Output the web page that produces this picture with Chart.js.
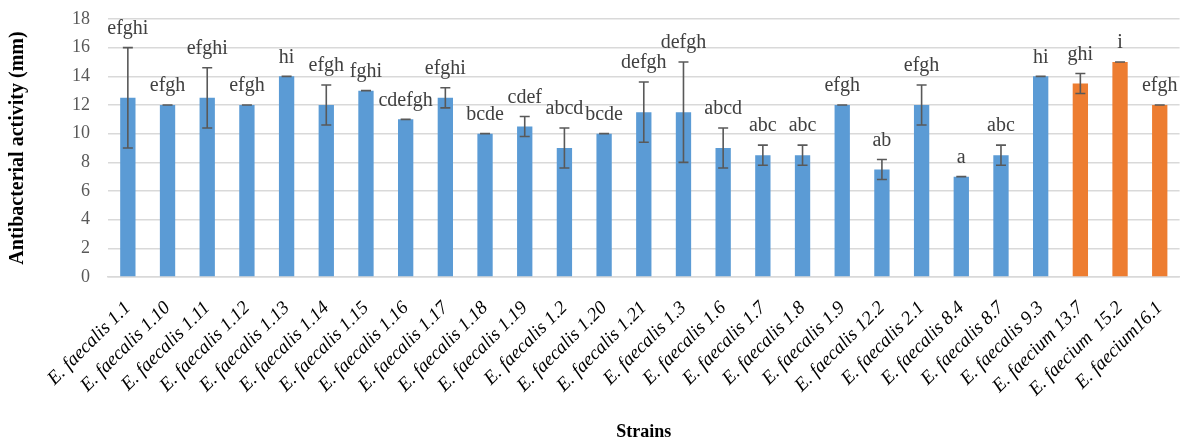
<!DOCTYPE html>
<html>
<head>
<meta charset="utf-8">
<script src="https://cdn.jsdelivr.net/npm/chart.js@4.4.0/dist/chart.umd.min.js"></script>
<style>
  body { margin: 0; background: #fff; }
  #wrap { width: 1188px; height: 445px; }
</style>
</head>
<body>
<div id="wrap"><canvas id="chart" width="1188" height="445"></canvas></div>
<script>
// strains (x categories)
const strains = [
  'E. faecalis 1.1', 'E. faecalis 1.10', 'E. faecalis 1.11', 'E. faecalis 1.12',
  'E. faecalis 1.13', 'E. faecalis 1.14', 'E. faecalis 1.15', 'E. faecalis 1.16',
  'E. faecalis 1.17', 'E. faecalis 1.18', 'E. faecalis 1.19', 'E. faecalis 1.2',
  'E. faecalis 1.20', 'E. faecalis 1.21', 'E. faecalis 1.3', 'E. faecalis 1.6',
  'E. faecalis 1.7', 'E. faecalis 1.8', 'E. faecalis 1.9', 'E. faecalis 12.2',
  'E. faecalis 2.1', 'E. faecalis 8.4', 'E. faecalis 8.7', 'E. faecalis 9.3',
  'E. faecium 13.7', 'E. faecium  15.2', 'E. faecium16.1'
];
// mean inhibition zone (mm)
const means = [12.5, 12, 12.5, 12, 14, 12, 13, 11, 12.5, 10, 10.5, 9, 10, 11.5, 11.5,
  9, 8.5, 8.5, 12, 7.5, 12, 7, 8.5, 14, 13.5, 15, 12];
// standard deviation
const errs = [3.5, 0, 2.1, 0, 0, 1.4, 0, 0, 0.7, 0, 0.7, 1.4, 0, 2.1, 3.5,
  1.4, 0.7, 0.7, 0, 0.7, 1.4, 0, 0.7, 0, 0.7, 0, 0];
// significance groups
const letters = ['efghi', 'efgh', 'efghi', 'efgh', 'hi', 'efgh', 'fghi', 'cdefgh', 'efghi',
  'bcde', 'cdef', 'abcd', 'bcde', 'defgh', 'defgh', 'abcd', 'abc', 'abc', 'efgh', 'ab',
  'efgh', 'a', 'abc', 'hi', 'ghi', 'i', 'efgh'];
const yTicks = [0, 2, 4, 6, 8, 10, 12, 14, 16, 18];

const blue = '#5B9BD5';
const orange = '#ED7D31';
const serif = '"Liberation Serif", "Times New Roman", serif';

// error bars + letter groups drawn on top of bars
const errorBars = {
  id: 'errorBars',
  afterDatasetsDraw(chart) {
    const ctx = chart.ctx;
    const y = chart.scales.y;
    const meta = chart.getDatasetMeta(0);
    ctx.save();
    ctx.strokeStyle = '#595959';
    ctx.lineWidth = 1.6;
    ctx.fillStyle = '#404040';
    ctx.font = '20px ' + serif;
    ctx.textAlign = 'center';
    ctx.textBaseline = 'middle';
    meta.data.forEach((bar, i) => {
      const top = y.getPixelForValue(means[i] + errs[i]);
      const bot = y.getPixelForValue(means[i] - errs[i]);
      ctx.beginPath();
      ctx.moveTo(bar.x, top);
      ctx.lineTo(bar.x, bot);
      ctx.moveTo(bar.x - 5, top);
      ctx.lineTo(bar.x + 5, top);
      ctx.moveTo(bar.x - 5, bot);
      ctx.lineTo(bar.x + 5, bot);
      ctx.stroke();
      ctx.fillText(letters[i], bar.x, top - 19);
    });
    ctx.restore();
  }
};

new Chart(document.getElementById('chart'), {
  type: 'bar',
  data: {
    labels: strains,
    datasets: [{
      data: means,
      backgroundColor: strains.map(s => s.includes('faecium') ? orange : blue),
      categoryPercentage: 1,
      barPercentage: 0.386
    }]
  },
  options: {
    responsive: false,
    animation: false,
    layout: { padding: { top: 19, right: 8, left: 6, bottom: 0 } },
    plugins: {
      legend: { display: false },
      tooltip: { enabled: false }
    },
    scales: {
      x: {
        grid: { display: false },
        border: { color: '#d9d9d9', width: 1.6 },
        ticks: {
          minRotation: 45,
          maxRotation: 45,
          autoSkip: false,
          padding: 12,
          color: '#000',
          font: { family: serif, size: 19, style: 'italic' }
        },
        title: {
          display: true,
          text: 'Strains',
          color: '#000',
          padding: { top: 0, bottom: 2 },
          font: { family: serif, size: 18, weight: 'bold' }
        },
        afterFit(scale) { scale.height = 168; }
      },
      y: {
        min: 0,
        max: 18,
        afterBuildTicks(scale) { scale.ticks = yTicks.map(v => ({ value: v })); },
        grid: { color: '#d9d9d9', lineWidth: 1.6, drawTicks: false },
        border: { display: false },
        ticks: {
          padding: 18,
          color: '#595959',
          font: { family: serif, size: 18 }
        },
        title: {
          display: true,
          text: 'Antibacterial activity (mm)',
          color: '#000',
          padding: { top: 0, bottom: 0 },
          font: { family: serif, size: 20, weight: 'bold' }
        },
        afterFit(scale) {
          scale.width = 102;
          scale.paddingTop = 0;
          scale.paddingBottom = 0;
        }
      }
    }
  },
  plugins: [errorBars]
});
</script>
</body>
</html>
